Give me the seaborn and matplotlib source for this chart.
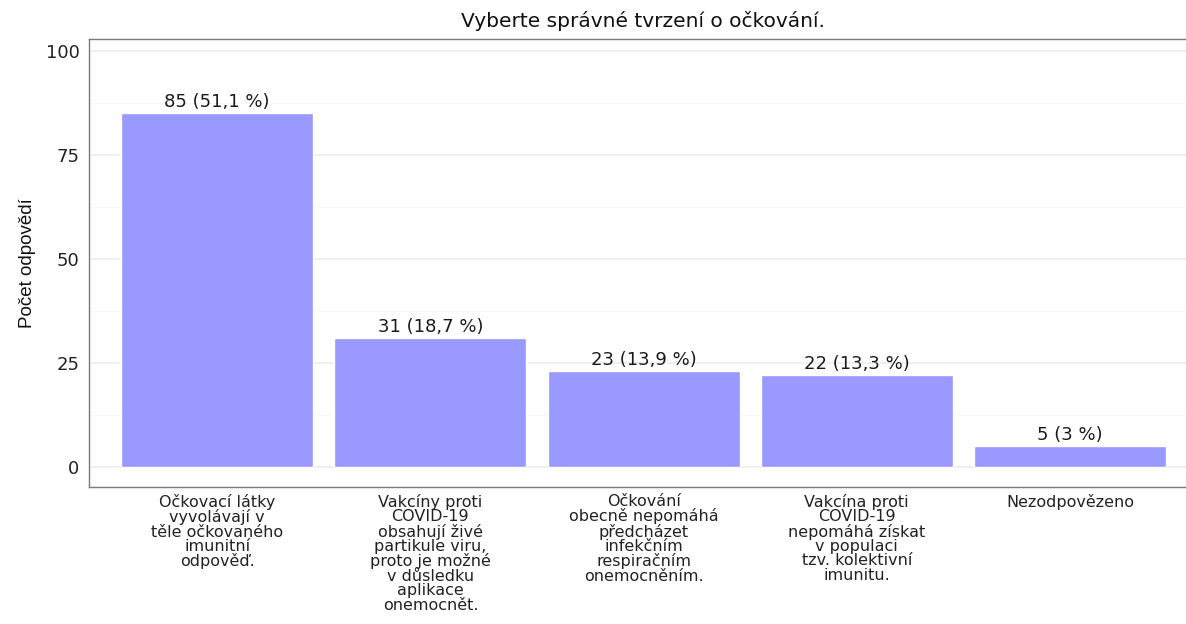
import matplotlib
matplotlib.use("Agg")
import matplotlib.pyplot as plt
import seaborn as sns
import pandas as pd
from matplotlib.ticker import MultipleLocator

# Data
categories = [
    "Očkovací látky\nvyvolávají v\ntěle očkovaného\nimunitní\nodpověď.",
    "Vakcíny proti\nCOVID-19\nobsahují živé\npartikule viru,\nproto je možné\nv důsledku\naplikace\nonemocnět.",
    "Očkování\nobecně nepomáhá\npředcházet\ninfekčním\nrespiračním\nonemocněním.",
    "Vakcína proti\nCOVID-19\nnepomáhá získat\nv populaci\ntzv. kolektivní\nimunitu.",
    "Nezodpovězeno",
]
counts = [85, 31, 23, 22, 5]
labels = ["85 (51,1 %)", "31 (18,7 %)", "23 (13,9 %)", "22 (13,3 %)", "5 (3 %)"]

df = pd.DataFrame({"kategorie": categories, "pocet": counts})

sns.set_style("white")
plt.rcParams['font.family'] = ['DejaVu Sans']

fig = plt.figure(figsize=(11.86, 6.24), dpi=100)
ax = fig.add_axes([0.0753, 0.2196, 0.9347, 0.718])

# mrizka
ax.set_axisbelow(True)
ax.yaxis.set_minor_locator(MultipleLocator(12.5))
ax.yaxis.set_major_locator(MultipleLocator(25))
ax.grid(which="major", color="#EBEBEB", linewidth=1.1)
ax.grid(which="minor", axis="y", color="#F5F5F5", linewidth=0.6)

sns.barplot(data=df, x="kategorie", y="pocet", color="#9999FF", width=0.9,
            saturation=1, ax=ax)

for i, (c, lab) in enumerate(zip(counts, labels)):
    ax.text(i, c + 0.5, lab, ha="center", va="bottom", fontsize=13, color="#1a1a1a")

ax.set_xlim(-0.6, 4.6)
ax.set_ylim(-4.8, 102.8)
ax.set_yticks([0, 25, 50, 75, 100])

ax.set_xlabel("")
ax.set_ylabel("Počet odpovědí", fontsize=13.5, color="#111111", labelpad=7,
              family="Liberation Sans")
# titulek vystredeny nad panelem (panel presahuje vpravo za okraj obrazku)
fig.text(0.542, 0.966, "Vyberte správné tvrzení o očkování.", ha="center", va="center",
         fontsize=14.5, color="#111111")

ax.tick_params(axis="both", which="major", length=4, width=0.8, color="#333333",
               labelcolor="#222222", pad=3)
ax.tick_params(axis="x", pad=1)
ax.tick_params(axis="y", which="minor", length=0)
ax.tick_params(axis="y", labelsize=13)
for lbl in ax.get_xticklabels():
    lbl.set_linespacing(0.95)
    lbl.set_fontsize(11.5)

for s in ax.spines.values():
    s.set_color("#7a7a7a")
    s.set_linewidth(1.0)

fig.savefig("out.png", dpi=100)
